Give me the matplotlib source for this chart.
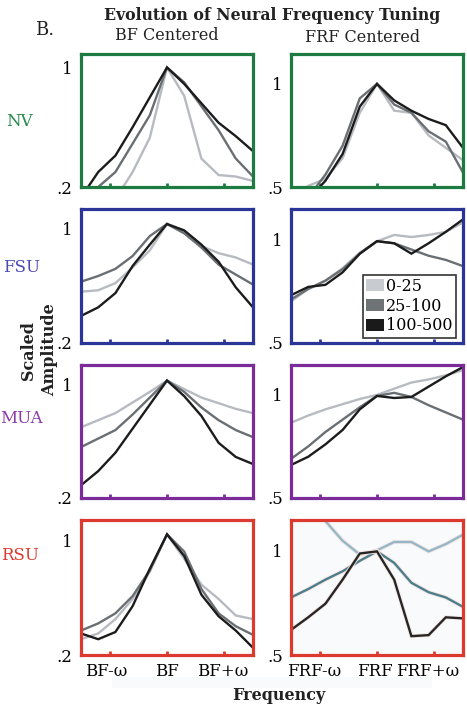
import matplotlib
matplotlib.use("Agg")
import matplotlib.pyplot as plt
import matplotlib.transforms as mtransforms
import matplotlib.patheffects as pe
from matplotlib.patches import Patch, Rectangle

# Frequency offsets (octaves) relative to the centre frequency
offsets = [-1.5, -1.2, -0.9, -0.6, -0.3, 0.0, 0.3, 0.6, 0.9, 1.2, 1.5]

bins = ["0-25", "25-100", "100-500"]
rows = ["NV", "FSU", "MUA", "RSU"]
bf_ticklabels = ["BF-\u03c9", "BF", "BF+\u03c9"]
frf_ticklabels = ["FRF-\u03c9", "FRF", "FRF+\u03c9"]

# BF centred tuning curves
nv_bf_low = [0.08, 0.10, 0.12, 0.30, 0.53, 1.00, 0.81, 0.39, 0.28, 0.27, 0.24]
nv_bf_mid = [0.12, 0.20, 0.30, 0.49, 0.68, 1.00, 0.90, 0.74, 0.58, 0.39, 0.27]
nv_bf_high = [0.13, 0.30, 0.41, 0.60, 0.80, 1.00, 0.89, 0.76, 0.63, 0.54, 0.44]

fsu_bf_low = [0.56, 0.57, 0.62, 0.73, 0.85, 1.035, 0.97, 0.88, 0.83, 0.80, 0.75]
fsu_bf_mid = [0.63, 0.67, 0.72, 0.81, 0.95, 1.035, 0.97, 0.87, 0.75, 0.68, 0.61]
fsu_bf_high = [0.39, 0.45, 0.55, 0.74, 0.89, 1.035, 0.99, 0.89, 0.77, 0.59, 0.45]

mua_bf_low = [0.70, 0.75, 0.80, 0.875, 0.95, 1.03, 0.97, 0.91, 0.87, 0.83, 0.80]
mua_bf_mid = [0.56, 0.62, 0.68, 0.79, 0.91, 1.03, 0.95, 0.84, 0.75, 0.68, 0.63]
mua_bf_high = [0.29, 0.39, 0.52, 0.69, 0.86, 1.03, 0.92, 0.78, 0.59, 0.49, 0.44]

rsu_bf_low = [0.31, 0.35, 0.45, 0.59, 0.78, 1.04, 0.87, 0.69, 0.59, 0.475, 0.45]
rsu_bf_mid = [0.37, 0.42, 0.49, 0.61, 0.79, 1.04, 0.92, 0.66, 0.49, 0.40, 0.34]
rsu_bf_high = [0.35, 0.31, 0.36, 0.54, 0.80, 1.04, 0.89, 0.62, 0.47, 0.37, 0.25]

# FRF centred tuning curves
nv_frf_low = [0.45, 0.505, 0.54, 0.64, 0.86, 1.00, 0.87, 0.86, 0.75, 0.69, 0.63]
nv_frf_mid = [0.40, 0.45, 0.56, 0.70, 0.93, 1.00, 0.90, 0.86, 0.77, 0.72, 0.57]
nv_frf_high = [0.38, 0.44, 0.53, 0.66, 0.89, 1.00, 0.92, 0.87, 0.83, 0.80, 0.69]

fsu_frf_low = [0.70, 0.76, 0.80, 0.86, 0.935, 0.99, 1.02, 1.01, 1.02, 1.035, 1.08]
fsu_frf_mid = [0.71, 0.76, 0.80, 0.855, 0.93, 0.99, 0.98, 0.95, 0.92, 0.90, 0.87]
fsu_frf_high = [0.73, 0.77, 0.78, 0.84, 0.93, 0.99, 0.98, 0.93, 0.98, 1.035, 1.095]

mua_frf_low = [0.865, 0.90, 0.93, 0.955, 0.98, 1.00, 1.03, 1.06, 1.075, 1.095, 1.12]
mua_frf_mid = [0.69, 0.75, 0.82, 0.88, 0.94, 0.995, 1.01, 0.99, 0.95, 0.915, 0.88]
mua_frf_high = [0.66, 0.70, 0.76, 0.83, 0.93, 0.995, 0.985, 0.99, 1.04, 1.09, 1.135]

rsu_frf_low = [1.32, 1.23, 1.14, 1.046, 0.98, 1.00, 1.04, 1.04, 0.995, 1.03, 1.075]
rsu_frf_mid = [0.775, 0.815, 0.86, 0.90, 0.95, 0.995, 0.94, 0.845, 0.80, 0.775, 0.73]
rsu_frf_high = [0.62, 0.68, 0.745, 0.86, 0.985, 0.995, 0.86, 0.59, 0.595, 0.68, 0.675]

bf_curves = [
    (nv_bf_low, nv_bf_mid, nv_bf_high),
    (fsu_bf_low, fsu_bf_mid, fsu_bf_high),
    (mua_bf_low, mua_bf_mid, mua_bf_high),
    (rsu_bf_low, rsu_bf_mid, rsu_bf_high),
]
frf_curves = [
    (nv_frf_low, nv_frf_mid, nv_frf_high),
    (fsu_frf_low, fsu_frf_mid, fsu_frf_high),
    (mua_frf_low, mua_frf_mid, mua_frf_high),
    (rsu_frf_low, rsu_frf_mid, rsu_frf_high),
]

row_colors = ["#1d7a40", "#2b3598", "#7c2c98", "#dc3a2e"]
label_colors = ["#2a8a4c", "#4a4ab4", "#8a3aa8", "#dc3a2e"]
line_colors = ["#b7bbc1", "#6a6f73", "#1c1c1c"]
rsu_frf_colors = ["#95b7c7", "#4c7e8b", "#262626"]

plt.rcParams["font.family"] = ["DejaVu Serif"]

W, H = 467, 711
fig = plt.figure(figsize=(W / 100, H / 100), dpi=100)


def fx(x):
    return x / W


def fy(y):
    return 1 - y / H


row_px = [(54, 187), (209, 343), (365, 498), (520, 655)]
col_px = [(81, 253), (291, 463)]

# faint band behind the bottom labels
fig.patches.append(Rectangle((fx(112), fy(688)), fx(432) - fx(112), 11 / H,
                             transform=fig.transFigure, color="#f9fafb",
                             zorder=0, lw=0))


def style_axis(ax, color, ylo, yhi, ytick_lo):
    ax.set_xlim(-1.5, 1.5)
    ax.set_ylim(ylo, yhi)
    for sp in ax.spines.values():
        sp.set_color(color)
        sp.set_linewidth(2.3)
    ax.set_xticks([-1, 0, 1])
    ax.set_yticks([ytick_lo, 1])
    ax.set_yticklabels(["." + str(ytick_lo).split(".")[1], "1"])
    ax.tick_params(axis="x", direction="in", length=3, width=2, color=color,
                   pad=6, labelsize=12)
    ax.tick_params(axis="y", length=0, pad=6, labelsize=12)
    ax.set_xticklabels([])


for r in range(4):
    top, bot = row_px[r]
    for c in range(2):
        x0, x1 = col_px[c]
        ax = fig.add_axes([fx(x0), fy(bot), (x1 - x0) / W, (bot - top) / H])
        if c == 0:
            yhi = 1.09 if r == 0 else 1.14
            style_axis(ax, row_colors[r], 0.2, yhi, 0.2)
            curves = bf_curves[r]
            colors = line_colors
        else:
            style_axis(ax, row_colors[r], 0.5, 1.145, 0.5)
            curves = frf_curves[r]
            colors = line_colors
        effects = None
        if c == 1 and r == 3:
            ax.set_facecolor("#f8fafc")
            colors = rsu_frf_colors
            effects = [pe.Stroke(linewidth=3.0, foreground="#f6e7e4"), pe.Normal()]
        for vals, col, lab in zip(curves, colors, bins):
            ln, = ax.plot(offsets, vals, color=col, lw=1.7, label=lab,
                          solid_joinstyle="miter", clip_on=True)
            if effects:
                ln.set_path_effects(effects)

        if r == 3:
            labels = bf_ticklabels if c == 0 else frf_ticklabels
            ax.set_xticklabels(labels)
            shifts = [-0.03, 0.0, -0.02] if c == 0 else [-0.05, -0.02, -0.07]
            for lab, dx in zip(ax.get_xticklabels(), shifts):
                lab.set_transform(lab.get_transform() +
                                  mtransforms.ScaledTranslation(dx, 0, fig.dpi_scale_trans))

        if r == 1 and c == 1:
            leg_handles = [Patch(facecolor=c_, edgecolor="none", label=b)
                           for c_, b in zip(["#c8cbd0", "#6e7376", "#1a1a1a"], bins)]
            leg = ax.legend(handles=leg_handles, loc="lower right",
                            bbox_to_anchor=(0.958, 0.04), frameon=True,
                            fancybox=False, fontsize=11.5, borderpad=0.2,
                            handlelength=1.1, handleheight=0.75,
                            handletextpad=0.15, labelspacing=0.18,
                            borderaxespad=0)
            leg.get_frame().set_edgecolor("black")
            leg.get_frame().set_linewidth(1.2)

# Titles and labels
fig.text(fx(272), fy(15), "Evolution of Neural Frequency Tuning", ha="center",
         va="center", fontsize=11.3, fontweight="bold", color="#222222")
fig.text(fx(45), fy(30), "B.", ha="center", va="center", fontsize=13,
         color="#222222")
fig.text(fx(167), fy(36), "BF Centered", ha="center", va="center",
         fontsize=11.5, color="#222222")
fig.text(fx(363), fy(38), "FRF Centered", ha="center", va="center",
         fontsize=11.5, color="#222222")

row_label_pos = [(19, 122), (22, 267), (21, 419), (20, 555)]
for name, (px, py), col in zip(rows, row_label_pos, label_colors):
    fig.text(fx(px), fy(py), name, ha="center", va="center", fontsize=12,
             color=col)

fig.text(fx(39), fy(350), "Scaled\nAmplitude", ha="center", va="center",
         rotation=90, fontsize=11.5, fontweight="bold", linespacing=1.3,
         color="#222222")
fig.text(fx(279), fy(695), "Frequency", ha="center", va="center",
         fontsize=11.5, fontweight="bold", color="#222222")

fig.savefig("out.png", dpi=100)
